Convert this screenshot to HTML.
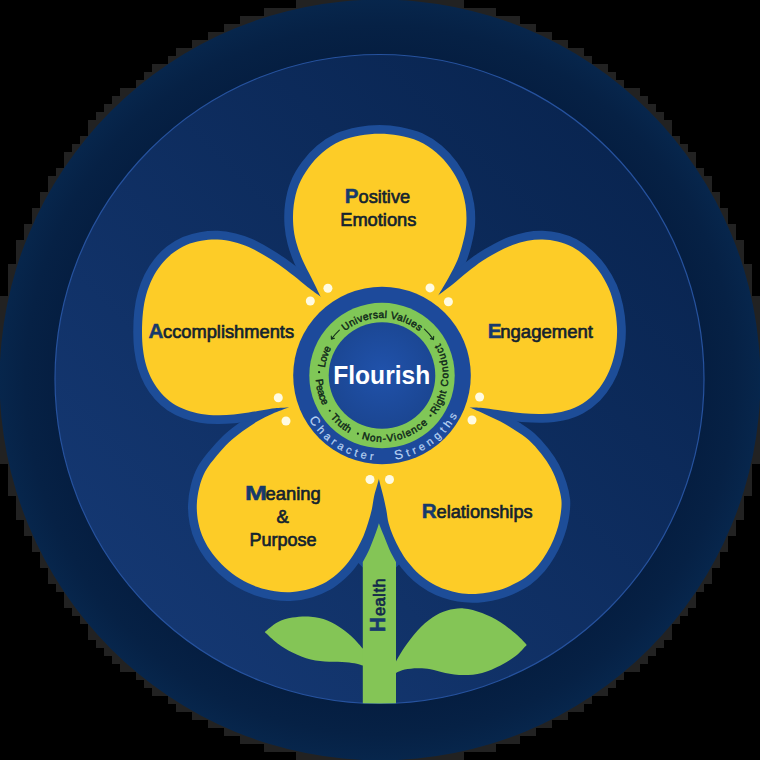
<!DOCTYPE html>
<html lang="en"><head><meta charset="utf-8"><title>Flourish</title>
<style>html,body{margin:0;padding:0;background:#000;}body{width:760px;height:760px;overflow:hidden;font-family:"Liberation Sans",sans-serif;}svg{display:block;}</style></head>
<body>
<svg width="760" height="760" viewBox="0 0 760 760">
<defs>
<linearGradient id="gInner" gradientUnits="userSpaceOnUse" x1="150" y1="610" x2="610" y2="150"><stop offset="0" stop-color="#143771"/><stop offset="1" stop-color="#092551"/></linearGradient>
<radialGradient id="gCore" gradientUnits="userSpaceOnUse" cx="382" cy="372" r="56"><stop offset="0" stop-color="#2052ab"/><stop offset="1" stop-color="#1b4692"/></radialGradient>
<radialGradient id="gOuter" gradientUnits="userSpaceOnUse" cx="380" cy="380" r="381"><stop offset="0.85" stop-color="#051e41"/><stop offset="0.93" stop-color="#062145"/><stop offset="1" stop-color="#07264c"/></radialGradient>
<clipPath id="clipInner"><circle cx="379.5" cy="379" r="324.5"/></clipPath>
<path id="arcTop" d="M326.28 395.78 A59.3 59.3 0 0 1 437.72 355.22"/>
<path id="arcBot" d="M315.65 369.7 A66.6 66.6 0 1 0 436.56 337.3"/>
<path id="arcChar" d="M297.4 375.5 A84.6 84.6 0 0 0 466.6 375.5"/>
</defs>
<rect width="760" height="760" fill="#000000"/>
<path d="M296 0h8v8h-8zM304 0h8v8h-8zM312 0h8v8h-8zM320 0h8v8h-8zM328 0h8v8h-8zM336 0h8v8h-8zM344 0h8v8h-8zM352 0h8v8h-8zM360 0h8v8h-8zM368 0h8v8h-8zM384 0h8v8h-8zM392 0h8v8h-8zM400 0h8v8h-8zM408 0h8v8h-8zM416 0h8v8h-8zM424 0h8v8h-8zM432 0h8v8h-8zM440 0h8v8h-8zM448 0h8v8h-8zM456 0h8v8h-8zM264 8h8v8h-8zM272 8h8v8h-8zM280 8h8v8h-8zM288 8h8v8h-8zM296 8h8v8h-8zM456 8h8v8h-8zM464 8h8v8h-8zM472 8h8v8h-8zM480 8h8v8h-8zM488 8h8v8h-8zM240 16h8v8h-8zM248 16h8v8h-8zM256 16h8v8h-8zM264 16h8v8h-8zM488 16h8v8h-8zM496 16h8v8h-8zM504 16h8v8h-8zM512 16h8v8h-8zM224 24h8v8h-8zM232 24h8v8h-8zM240 24h8v8h-8zM512 24h8v8h-8zM520 24h8v8h-8zM528 24h8v8h-8zM208 32h8v8h-8zM216 32h8v8h-8zM224 32h8v8h-8zM528 32h8v8h-8zM536 32h8v8h-8zM544 32h8v8h-8zM192 40h8v8h-8zM200 40h8v8h-8zM208 40h8v8h-8zM544 40h8v8h-8zM552 40h8v8h-8zM560 40h8v8h-8zM176 48h8v8h-8zM184 48h8v8h-8zM192 48h8v8h-8zM560 48h8v8h-8zM568 48h8v8h-8zM576 48h8v8h-8zM168 56h8v8h-8zM176 56h8v8h-8zM576 56h8v8h-8zM584 56h8v8h-8zM152 64h8v8h-8zM160 64h8v8h-8zM168 64h8v8h-8zM584 64h8v8h-8zM592 64h8v8h-8zM600 64h8v8h-8zM144 72h8v8h-8zM152 72h8v8h-8zM600 72h8v8h-8zM608 72h8v8h-8zM136 80h8v8h-8zM144 80h8v8h-8zM608 80h8v8h-8zM616 80h8v8h-8zM120 88h8v8h-8zM128 88h8v8h-8zM136 88h8v8h-8zM616 88h8v8h-8zM624 88h8v8h-8zM632 88h8v8h-8zM112 96h8v8h-8zM120 96h8v8h-8zM632 96h8v8h-8zM640 96h8v8h-8zM104 104h8v8h-8zM112 104h8v8h-8zM640 104h8v8h-8zM648 104h8v8h-8zM96 112h8v8h-8zM104 112h8v8h-8zM648 112h8v8h-8zM656 112h8v8h-8zM88 120h8v8h-8zM96 120h8v8h-8zM656 120h8v8h-8zM664 120h8v8h-8zM88 128h8v8h-8zM664 128h8v8h-8zM80 136h8v8h-8zM88 136h8v8h-8zM664 136h8v8h-8zM672 136h8v8h-8zM72 144h8v8h-8zM80 144h8v8h-8zM672 144h8v8h-8zM680 144h8v8h-8zM64 152h8v8h-8zM72 152h8v8h-8zM680 152h8v8h-8zM688 152h8v8h-8zM64 160h8v8h-8zM688 160h8v8h-8zM56 168h8v8h-8zM64 168h8v8h-8zM688 168h8v8h-8zM696 168h8v8h-8zM48 176h8v8h-8zM56 176h8v8h-8zM696 176h8v8h-8zM704 176h8v8h-8zM48 184h8v8h-8zM704 184h8v8h-8zM40 192h8v8h-8zM48 192h8v8h-8zM704 192h8v8h-8zM712 192h8v8h-8zM40 200h8v8h-8zM712 200h8v8h-8zM32 208h8v8h-8zM40 208h8v8h-8zM712 208h8v8h-8zM720 208h8v8h-8zM32 216h8v8h-8zM720 216h8v8h-8zM24 224h8v8h-8zM32 224h8v8h-8zM720 224h8v8h-8zM728 224h8v8h-8zM24 232h8v8h-8zM728 232h8v8h-8zM16 240h8v8h-8zM24 240h8v8h-8zM728 240h8v8h-8zM736 240h8v8h-8zM16 248h8v8h-8zM736 248h8v8h-8zM16 256h8v8h-8zM736 256h8v8h-8zM8 264h8v8h-8zM16 264h8v8h-8zM736 264h8v8h-8zM744 264h8v8h-8zM8 272h8v8h-8zM744 272h8v8h-8zM8 280h8v8h-8zM744 280h8v8h-8zM8 288h8v8h-8zM744 288h8v8h-8zM0 296h8v8h-8zM8 296h8v8h-8zM744 296h8v8h-8zM752 296h8v8h-8zM0 304h8v8h-8zM752 304h8v8h-8zM0 312h8v8h-8zM752 312h8v8h-8zM0 320h8v8h-8zM752 320h8v8h-8zM0 328h8v8h-8zM752 328h8v8h-8zM0 336h8v8h-8zM752 336h8v8h-8zM0 344h8v8h-8zM752 344h8v8h-8zM0 352h8v8h-8zM752 352h8v8h-8zM0 360h8v8h-8zM752 360h8v8h-8zM0 368h8v8h-8zM752 368h8v8h-8zM0 384h8v8h-8zM752 384h8v8h-8zM0 392h8v8h-8zM752 392h8v8h-8zM0 400h8v8h-8zM752 400h8v8h-8zM0 408h8v8h-8zM752 408h8v8h-8zM0 416h8v8h-8zM752 416h8v8h-8zM0 424h8v8h-8zM752 424h8v8h-8zM0 432h8v8h-8zM752 432h8v8h-8zM0 440h8v8h-8zM752 440h8v8h-8zM0 448h8v8h-8zM752 448h8v8h-8zM0 456h8v8h-8zM8 456h8v8h-8zM744 456h8v8h-8zM752 456h8v8h-8zM8 464h8v8h-8zM744 464h8v8h-8zM8 472h8v8h-8zM744 472h8v8h-8zM8 480h8v8h-8zM744 480h8v8h-8zM8 488h8v8h-8zM16 488h8v8h-8zM736 488h8v8h-8zM744 488h8v8h-8zM16 496h8v8h-8zM736 496h8v8h-8zM16 504h8v8h-8zM736 504h8v8h-8zM16 512h8v8h-8zM24 512h8v8h-8zM728 512h8v8h-8zM736 512h8v8h-8zM24 520h8v8h-8zM728 520h8v8h-8zM24 528h8v8h-8zM32 528h8v8h-8zM720 528h8v8h-8zM728 528h8v8h-8zM32 536h8v8h-8zM720 536h8v8h-8zM32 544h8v8h-8zM40 544h8v8h-8zM712 544h8v8h-8zM720 544h8v8h-8zM40 552h8v8h-8zM712 552h8v8h-8zM40 560h8v8h-8zM48 560h8v8h-8zM704 560h8v8h-8zM712 560h8v8h-8zM48 568h8v8h-8zM704 568h8v8h-8zM48 576h8v8h-8zM56 576h8v8h-8zM696 576h8v8h-8zM704 576h8v8h-8zM56 584h8v8h-8zM64 584h8v8h-8zM688 584h8v8h-8zM696 584h8v8h-8zM64 592h8v8h-8zM688 592h8v8h-8zM64 600h8v8h-8zM72 600h8v8h-8zM680 600h8v8h-8zM688 600h8v8h-8zM72 608h8v8h-8zM80 608h8v8h-8zM672 608h8v8h-8zM680 608h8v8h-8zM80 616h8v8h-8zM88 616h8v8h-8zM664 616h8v8h-8zM672 616h8v8h-8zM88 624h8v8h-8zM664 624h8v8h-8zM88 632h8v8h-8zM96 632h8v8h-8zM656 632h8v8h-8zM664 632h8v8h-8zM96 640h8v8h-8zM104 640h8v8h-8zM648 640h8v8h-8zM656 640h8v8h-8zM104 648h8v8h-8zM112 648h8v8h-8zM640 648h8v8h-8zM648 648h8v8h-8zM112 656h8v8h-8zM120 656h8v8h-8zM632 656h8v8h-8zM640 656h8v8h-8zM120 664h8v8h-8zM128 664h8v8h-8zM136 664h8v8h-8zM616 664h8v8h-8zM624 664h8v8h-8zM632 664h8v8h-8zM136 672h8v8h-8zM144 672h8v8h-8zM608 672h8v8h-8zM616 672h8v8h-8zM144 680h8v8h-8zM152 680h8v8h-8zM600 680h8v8h-8zM608 680h8v8h-8zM152 688h8v8h-8zM160 688h8v8h-8zM168 688h8v8h-8zM584 688h8v8h-8zM592 688h8v8h-8zM600 688h8v8h-8zM168 696h8v8h-8zM176 696h8v8h-8zM576 696h8v8h-8zM584 696h8v8h-8zM176 704h8v8h-8zM184 704h8v8h-8zM192 704h8v8h-8zM560 704h8v8h-8zM568 704h8v8h-8zM576 704h8v8h-8zM192 712h8v8h-8zM200 712h8v8h-8zM208 712h8v8h-8zM544 712h8v8h-8zM552 712h8v8h-8zM560 712h8v8h-8zM208 720h8v8h-8zM216 720h8v8h-8zM224 720h8v8h-8zM528 720h8v8h-8zM536 720h8v8h-8zM544 720h8v8h-8zM224 728h8v8h-8zM232 728h8v8h-8zM240 728h8v8h-8zM512 728h8v8h-8zM520 728h8v8h-8zM528 728h8v8h-8zM240 736h8v8h-8zM248 736h8v8h-8zM256 736h8v8h-8zM264 736h8v8h-8zM488 736h8v8h-8zM496 736h8v8h-8zM504 736h8v8h-8zM512 736h8v8h-8zM264 744h8v8h-8zM272 744h8v8h-8zM280 744h8v8h-8zM288 744h8v8h-8zM296 744h8v8h-8zM456 744h8v8h-8zM464 744h8v8h-8zM472 744h8v8h-8zM480 744h8v8h-8zM488 744h8v8h-8zM296 752h8v8h-8zM304 752h8v8h-8zM312 752h8v8h-8zM320 752h8v8h-8zM328 752h8v8h-8zM336 752h8v8h-8zM344 752h8v8h-8zM352 752h8v8h-8zM360 752h8v8h-8zM368 752h8v8h-8zM384 752h8v8h-8zM392 752h8v8h-8zM400 752h8v8h-8zM408 752h8v8h-8zM416 752h8v8h-8zM424 752h8v8h-8zM432 752h8v8h-8zM440 752h8v8h-8zM448 752h8v8h-8zM456 752h8v8h-8z" fill="#222222"/>
<circle cx="380" cy="380" r="380.4" fill="url(#gOuter)"/>
<circle cx="379.5" cy="379" r="324.5" fill="url(#gInner)" stroke="#26529e" stroke-width="1.2"/>
<g clip-path="url(#clipInner)" fill="#84c556">
<path d="M365.5 651.5 C365.05 651 364.85 650.77 362.8 648.5 C360.75 646.23 356.67 641.2 353.2 637.9 C349.73 634.6 346.3 631.62 342 628.7 C337.7 625.78 332.6 622.4 327.4 620.4 C322.2 618.4 316.63 617.17 310.8 616.7 C304.97 616.23 297.93 616.68 292.4 617.6 C286.87 618.52 282.22 619.8 277.6 622.2 C272.98 624.6 266.85 630.37 264.7 632 C266.85 633.9 272.98 639.97 277.6 643.4 C282.22 646.83 286.87 649.9 292.4 652.6 C297.93 655.3 304.67 658.07 310.8 659.6 C316.93 661.13 323.37 661.37 329.2 661.8 C335.03 662.23 341.2 661.88 345.8 662.2 C350.4 662.52 353.97 663.15 356.8 663.7 C359.63 664.25 361.35 665.03 362.8 665.5 C364.25 665.97 365.05 666.33 365.5 666.5 Z"/>
<path d="M393.5 666 C393.92 665.25 394.13 664.65 396 661.5 C397.87 658.35 401.1 652.27 404.7 647.1 C408.3 641.93 412.98 635.42 417.6 630.5 C422.22 625.58 427.48 620.92 432.4 617.6 C437.32 614.28 441.88 612.13 447.1 610.6 C452.32 609.07 457.87 608 463.7 608.4 C469.53 608.8 475.97 610.7 482.1 613 C488.23 615.3 494.67 618.52 500.5 622.2 C506.33 625.88 512.73 631.32 517.1 635.1 C521.47 638.88 525.1 643.27 526.7 644.9 C524.8 646.8 519.67 652.87 515.3 656.3 C510.93 659.73 506.03 662.73 500.5 665.5 C494.97 668.27 488.23 671.3 482.1 672.9 C475.97 674.5 469.83 675.1 463.7 675.1 C457.57 675.1 450.83 673.88 445.3 672.9 C439.77 671.92 435.12 669.97 430.5 669.2 C425.88 668.43 421.9 668.23 417.6 668.3 C413.3 668.37 408.3 668.83 404.7 669.6 C401.1 670.37 397.87 672.13 396 672.9 C394.13 673.67 393.92 673.98 393.5 674.2 Z"/>
</g>
<g fill="#1d4d98" stroke="#1d4d98" stroke-width="17.5" stroke-linejoin="round">
<path d="M320.5 296.5 C318.96 293.33 314.25 283.58 311.25 277.5 C308.25 271.42 305 265.83 302.5 260 C300 254.17 297.79 248.33 296.25 242.5 C294.71 236.67 293.67 231.25 293.25 225 C292.83 218.75 292.83 211.67 293.75 205 C294.67 198.33 296.25 191.25 298.75 185 C301.25 178.75 304.79 172.92 308.75 167.5 C312.71 162.08 317.29 156.88 322.5 152.5 C327.71 148.12 333.75 144.08 340 141.25 C346.25 138.42 353.42 136.75 360 135.5 C366.58 134.25 373.04 133.75 379.5 133.75 C385.96 133.75 392.21 134.25 398.75 135.5 C405.29 136.75 412.5 138.42 418.75 141.25 C425 144.08 431.04 148.12 436.25 152.5 C441.46 156.88 446.04 162.08 450 167.5 C453.96 172.92 457.42 178.75 460 185 C462.58 191.25 464.46 198.33 465.5 205 C466.54 211.67 466.67 218.75 466.25 225 C465.83 231.25 464.46 236.67 463 242.5 C461.54 248.33 459.88 254.17 457.5 260 C455.12 265.83 451.92 271.67 448.75 277.5 C445.58 283.33 440.21 292.08 438.5 295 L380 376 Z"/>
<path d="M438.5 295 C440.83 293.25 447.67 288.33 452.5 284.5 C457.33 280.67 462.5 275.96 467.5 272 C472.5 268.04 477.5 264.08 482.5 260.75 C487.5 257.42 492.5 254.62 497.5 252 C502.5 249.38 507.5 246.88 512.5 245 C517.5 243.12 522.5 241.67 527.5 240.75 C532.5 239.83 537.5 239.38 542.5 239.5 C547.5 239.62 552.5 240.25 557.5 241.5 C562.5 242.75 567.71 244.42 572.5 247 C577.29 249.58 581.88 253.04 586.25 257 C590.62 260.96 595 265.54 598.75 270.75 C602.5 275.96 606.12 282.21 608.75 288.25 C611.38 294.29 613.12 300.54 614.5 307 C615.88 313.46 616.71 320.75 617 327 C617.29 333.25 617 338.67 616.25 344.5 C615.5 350.33 614.38 356.17 612.5 362 C610.62 367.83 608.12 374.08 605 379.5 C601.88 384.92 598.12 390.12 593.75 394.5 C589.38 398.88 584.17 402.83 578.75 405.75 C573.33 408.67 567.29 410.62 561.25 412 C555.21 413.38 548.96 413.79 542.5 414 C536.04 414.21 529.17 413.79 522.5 413.25 C515.83 412.71 508.75 411.58 502.5 410.75 C496.25 409.92 490.42 408.79 485 408.25 C479.58 407.71 472.5 407.62 470 407.5 L380 376 Z"/>
<path d="M470 407.5 C472.5 408.62 480 411.9 485 414.2 C490 416.5 495 418.63 500 421.3 C505 423.97 510.21 427.08 515 430.2 C519.79 433.32 524.38 436.07 528.75 440 C533.12 443.93 537.5 448.96 541.25 453.75 C545 458.54 548.46 463.54 551.25 468.75 C554.04 473.96 556.31 479.79 558 485 C559.69 490.21 560.93 495.3 561.4 500 C561.87 504.7 561.33 508.82 560.8 513.2 C560.27 517.58 559.4 521.92 558.2 526.3 C557 530.68 555.47 535.12 553.6 539.5 C551.73 543.88 549.63 548.22 547 552.6 C544.37 556.98 541.42 561.63 537.8 565.8 C534.18 569.97 530.02 574.2 525.3 577.6 C520.58 581 514.33 584 509.5 586.2 C504.67 588.4 500.68 589.63 496.3 590.8 C491.92 591.97 487.23 592.67 483.2 593.2 C479.17 593.73 476.15 594.05 472.1 594 C468.05 593.95 463.28 593.63 458.9 592.9 C454.52 592.17 450.18 591.13 445.8 589.6 C441.42 588.07 436.98 586.22 432.6 583.7 C428.22 581.18 423.55 578.02 419.5 574.5 C415.45 570.98 411.6 566.77 408.3 562.6 C405 558.43 402.22 553.88 399.7 549.5 C397.18 545.12 395.05 540.68 393.2 536.3 C391.35 531.92 389.75 527.58 388.6 523.2 C387.45 518.82 387.18 514.48 386.3 510 C385.42 505.52 384.18 500.05 383.3 496.3 C382.42 492.55 381.73 490.38 381 487.5 C380.27 484.62 379.25 480.42 378.9 479 L380 376 Z"/>
<path d="M378.9 479 C378.5 480.42 377.3 484.62 376.5 487.5 C375.7 490.38 374.88 492.63 374.1 496.3 C373.32 499.97 372.78 505.12 371.8 509.5 C370.82 513.88 369.57 518.22 368.2 522.6 C366.83 526.98 365.47 531.4 363.6 535.8 C361.73 540.2 359.53 544.62 357 549 C354.47 553.38 351.27 558.35 348.4 562.1 C345.53 565.85 343.49 568.18 339.8 571.5 C336.11 574.82 331.22 579.12 326.25 582 C321.28 584.88 315.62 587.08 310 588.75 C304.38 590.42 298.33 591.58 292.5 592 C286.67 592.42 280.83 592.08 275 591.25 C269.17 590.42 263.33 589.08 257.5 587 C251.67 584.92 245.42 582 240 578.75 C234.58 575.5 229.58 571.67 225 567.5 C220.42 563.33 216.08 558.54 212.5 553.75 C208.92 548.96 205.87 543.96 203.5 538.75 C201.13 533.54 199.42 528.12 198.3 522.5 C197.18 516.88 196.63 510.83 196.8 505 C196.97 499.17 197.88 493.12 199.3 487.5 C200.72 481.88 202.48 476.46 205.3 471.25 C208.12 466.04 212.34 461.04 216.25 456.25 C220.16 451.46 224.38 446.67 228.75 442.5 C233.12 438.33 237.71 434.79 242.5 431.25 C247.29 427.71 252.5 424.17 257.5 421.25 C262.5 418.33 267.33 416.04 272.5 413.75 C277.67 411.46 285.83 408.54 288.5 407.5 L380 376 Z"/>
<path d="M288.5 407.5 C286.25 407.62 279.12 407.83 275 408.25 C270.88 408.67 268.12 409.29 263.75 410 C259.38 410.71 253.75 411.75 248.75 412.5 C243.75 413.25 238.96 414.04 233.75 414.5 C228.54 414.96 222.92 415.33 217.5 415.25 C212.08 415.17 206.46 414.88 201.25 414 C196.04 413.12 191.04 411.79 186.25 410 C181.46 408.21 176.67 406.04 172.5 403.25 C168.33 400.46 164.58 397 161.25 393.25 C157.92 389.5 155 385.33 152.5 380.75 C150 376.17 147.83 370.96 146.25 365.75 C144.67 360.54 143.71 355.12 143 349.5 C142.29 343.88 142 338.25 142 332 C142 325.75 142.29 318.25 143 312 C143.71 305.75 144.67 300.12 146.25 294.5 C147.83 288.88 150 283.25 152.5 278.25 C155 273.25 157.92 268.67 161.25 264.5 C164.58 260.33 168.33 256.5 172.5 253.25 C176.67 250 181.46 247.08 186.25 245 C191.04 242.92 196.04 241.67 201.25 240.75 C206.46 239.83 212.08 239.29 217.5 239.5 C222.92 239.71 228.54 240.75 233.75 242 C238.96 243.25 243.75 244.83 248.75 247 C253.75 249.17 258.75 252.08 263.75 255 C268.75 257.92 273.75 261.04 278.75 264.5 C283.75 267.96 288.96 272 293.75 275.75 C298.54 279.5 303.04 283.54 307.5 287 C311.96 290.46 318.33 294.92 320.5 296.5 L380 376 Z"/>
</g>
<polygon points="378.9,478 357,553 357.5,562 362.8,567.5 396,567.5 401.5,562 402,553" fill="#1d4d98"/>
<path clip-path="url(#clipInner)" fill="#84c556" d="M378.9 523.3 C377.8 527.5 376.2 531.8 374.7 535.8 C373 540.3 371.2 544.8 369.5 549 C367.5 553.8 364.6 558.4 362.8 562.1 L362.8 715 L396.0 715 L396.0 562.1 C393.9 558.2 391.2 553.6 389.2 549 C387.3 544.6 385.6 540.2 383.9 535.8 C382.3 531.7 380.2 527.4 378.9 523.3 Z"/>
<polygon points="320.5,296.5 438.5,295 470,407.5 378.9,479 288.5,407.5" fill="#fdcc27"/>
<g fill="#fdcc27">
<path d="M320.5 296.5 C318.96 293.33 314.25 283.58 311.25 277.5 C308.25 271.42 305 265.83 302.5 260 C300 254.17 297.79 248.33 296.25 242.5 C294.71 236.67 293.67 231.25 293.25 225 C292.83 218.75 292.83 211.67 293.75 205 C294.67 198.33 296.25 191.25 298.75 185 C301.25 178.75 304.79 172.92 308.75 167.5 C312.71 162.08 317.29 156.88 322.5 152.5 C327.71 148.12 333.75 144.08 340 141.25 C346.25 138.42 353.42 136.75 360 135.5 C366.58 134.25 373.04 133.75 379.5 133.75 C385.96 133.75 392.21 134.25 398.75 135.5 C405.29 136.75 412.5 138.42 418.75 141.25 C425 144.08 431.04 148.12 436.25 152.5 C441.46 156.88 446.04 162.08 450 167.5 C453.96 172.92 457.42 178.75 460 185 C462.58 191.25 464.46 198.33 465.5 205 C466.54 211.67 466.67 218.75 466.25 225 C465.83 231.25 464.46 236.67 463 242.5 C461.54 248.33 459.88 254.17 457.5 260 C455.12 265.83 451.92 271.67 448.75 277.5 C445.58 283.33 440.21 292.08 438.5 295 L380 376 Z"/>
<path d="M438.5 295 C440.83 293.25 447.67 288.33 452.5 284.5 C457.33 280.67 462.5 275.96 467.5 272 C472.5 268.04 477.5 264.08 482.5 260.75 C487.5 257.42 492.5 254.62 497.5 252 C502.5 249.38 507.5 246.88 512.5 245 C517.5 243.12 522.5 241.67 527.5 240.75 C532.5 239.83 537.5 239.38 542.5 239.5 C547.5 239.62 552.5 240.25 557.5 241.5 C562.5 242.75 567.71 244.42 572.5 247 C577.29 249.58 581.88 253.04 586.25 257 C590.62 260.96 595 265.54 598.75 270.75 C602.5 275.96 606.12 282.21 608.75 288.25 C611.38 294.29 613.12 300.54 614.5 307 C615.88 313.46 616.71 320.75 617 327 C617.29 333.25 617 338.67 616.25 344.5 C615.5 350.33 614.38 356.17 612.5 362 C610.62 367.83 608.12 374.08 605 379.5 C601.88 384.92 598.12 390.12 593.75 394.5 C589.38 398.88 584.17 402.83 578.75 405.75 C573.33 408.67 567.29 410.62 561.25 412 C555.21 413.38 548.96 413.79 542.5 414 C536.04 414.21 529.17 413.79 522.5 413.25 C515.83 412.71 508.75 411.58 502.5 410.75 C496.25 409.92 490.42 408.79 485 408.25 C479.58 407.71 472.5 407.62 470 407.5 L380 376 Z"/>
<path d="M470 407.5 C472.5 408.62 480 411.9 485 414.2 C490 416.5 495 418.63 500 421.3 C505 423.97 510.21 427.08 515 430.2 C519.79 433.32 524.38 436.07 528.75 440 C533.12 443.93 537.5 448.96 541.25 453.75 C545 458.54 548.46 463.54 551.25 468.75 C554.04 473.96 556.31 479.79 558 485 C559.69 490.21 560.93 495.3 561.4 500 C561.87 504.7 561.33 508.82 560.8 513.2 C560.27 517.58 559.4 521.92 558.2 526.3 C557 530.68 555.47 535.12 553.6 539.5 C551.73 543.88 549.63 548.22 547 552.6 C544.37 556.98 541.42 561.63 537.8 565.8 C534.18 569.97 530.02 574.2 525.3 577.6 C520.58 581 514.33 584 509.5 586.2 C504.67 588.4 500.68 589.63 496.3 590.8 C491.92 591.97 487.23 592.67 483.2 593.2 C479.17 593.73 476.15 594.05 472.1 594 C468.05 593.95 463.28 593.63 458.9 592.9 C454.52 592.17 450.18 591.13 445.8 589.6 C441.42 588.07 436.98 586.22 432.6 583.7 C428.22 581.18 423.55 578.02 419.5 574.5 C415.45 570.98 411.6 566.77 408.3 562.6 C405 558.43 402.22 553.88 399.7 549.5 C397.18 545.12 395.05 540.68 393.2 536.3 C391.35 531.92 389.75 527.58 388.6 523.2 C387.45 518.82 387.18 514.48 386.3 510 C385.42 505.52 384.18 500.05 383.3 496.3 C382.42 492.55 381.73 490.38 381 487.5 C380.27 484.62 379.25 480.42 378.9 479 L380 376 Z"/>
<path d="M378.9 479 C378.5 480.42 377.3 484.62 376.5 487.5 C375.7 490.38 374.88 492.63 374.1 496.3 C373.32 499.97 372.78 505.12 371.8 509.5 C370.82 513.88 369.57 518.22 368.2 522.6 C366.83 526.98 365.47 531.4 363.6 535.8 C361.73 540.2 359.53 544.62 357 549 C354.47 553.38 351.27 558.35 348.4 562.1 C345.53 565.85 343.49 568.18 339.8 571.5 C336.11 574.82 331.22 579.12 326.25 582 C321.28 584.88 315.62 587.08 310 588.75 C304.38 590.42 298.33 591.58 292.5 592 C286.67 592.42 280.83 592.08 275 591.25 C269.17 590.42 263.33 589.08 257.5 587 C251.67 584.92 245.42 582 240 578.75 C234.58 575.5 229.58 571.67 225 567.5 C220.42 563.33 216.08 558.54 212.5 553.75 C208.92 548.96 205.87 543.96 203.5 538.75 C201.13 533.54 199.42 528.12 198.3 522.5 C197.18 516.88 196.63 510.83 196.8 505 C196.97 499.17 197.88 493.12 199.3 487.5 C200.72 481.88 202.48 476.46 205.3 471.25 C208.12 466.04 212.34 461.04 216.25 456.25 C220.16 451.46 224.38 446.67 228.75 442.5 C233.12 438.33 237.71 434.79 242.5 431.25 C247.29 427.71 252.5 424.17 257.5 421.25 C262.5 418.33 267.33 416.04 272.5 413.75 C277.67 411.46 285.83 408.54 288.5 407.5 L380 376 Z"/>
<path d="M288.5 407.5 C286.25 407.62 279.12 407.83 275 408.25 C270.88 408.67 268.12 409.29 263.75 410 C259.38 410.71 253.75 411.75 248.75 412.5 C243.75 413.25 238.96 414.04 233.75 414.5 C228.54 414.96 222.92 415.33 217.5 415.25 C212.08 415.17 206.46 414.88 201.25 414 C196.04 413.12 191.04 411.79 186.25 410 C181.46 408.21 176.67 406.04 172.5 403.25 C168.33 400.46 164.58 397 161.25 393.25 C157.92 389.5 155 385.33 152.5 380.75 C150 376.17 147.83 370.96 146.25 365.75 C144.67 360.54 143.71 355.12 143 349.5 C142.29 343.88 142 338.25 142 332 C142 325.75 142.29 318.25 143 312 C143.71 305.75 144.67 300.12 146.25 294.5 C147.83 288.88 150 283.25 152.5 278.25 C155 273.25 157.92 268.67 161.25 264.5 C164.58 260.33 168.33 256.5 172.5 253.25 C176.67 250 181.46 247.08 186.25 245 C191.04 242.92 196.04 241.67 201.25 240.75 C206.46 239.83 212.08 239.29 217.5 239.5 C222.92 239.71 228.54 240.75 233.75 242 C238.96 243.25 243.75 244.83 248.75 247 C253.75 249.17 258.75 252.08 263.75 255 C268.75 257.92 273.75 261.04 278.75 264.5 C283.75 267.96 288.96 272 293.75 275.75 C298.54 279.5 303.04 283.54 307.5 287 C311.96 290.46 318.33 294.92 320.5 296.5 L380 376 Z"/>
</g>
<g fill="#fffbe2">
<circle cx="327.9" cy="288.2" r="4.5"/>
<circle cx="310.3" cy="301" r="4.5"/>
<circle cx="430" cy="287.9" r="4.5"/>
<circle cx="448.4" cy="301.8" r="4.5"/>
<circle cx="278.3" cy="397.7" r="4.5"/>
<circle cx="286" cy="421" r="4.5"/>
<circle cx="479.6" cy="397" r="4.5"/>
<circle cx="472" cy="420" r="4.5"/>
<circle cx="370" cy="479.5" r="4.5"/>
<circle cx="389.5" cy="479.5" r="4.5"/>
</g>
<circle cx="382" cy="375.5" r="88.8" fill="#1d4a9b"/>
<circle cx="382" cy="375.5" r="72.7" fill="#80c757"/>
<circle cx="382" cy="375.5" r="53.3" fill="url(#gCore)"/>
<g font-family="Liberation Sans, sans-serif" fill="#10291a" stroke="#10291a" stroke-width="0.45">
<path id="wa1" d="M324.43 373.66 A57.6 57.6 0 0 1 334.51 342.9" fill="none" stroke="none"/><text font-size="10.2" ><textPath href="#wa1" startOffset="6" textLength="20.81" lengthAdjust="spacing">Love</textPath></text>
<path id="wa2" d="M340.59 335.46 A57.6 57.6 0 0 1 423.41 335.46" fill="none" stroke="none"/><text font-size="10.2" ><textPath href="#wa2" startOffset="6" textLength="80.42" lengthAdjust="spacing">Universal Values</textPath></text>
<path id="wa3" d="M315.63 373.44 A66.4 66.4 0 0 0 325.8 410.86" fill="none" stroke="none"/><text font-size="10.2" ><textPath href="#wa3" startOffset="6" textLength="27.35" lengthAdjust="spacing">Peace</textPath></text>
<path id="wa4" d="M326.84 412.46 A66.4 66.4 0 0 0 354.12 435.77" fill="none" stroke="none"/><text font-size="10.2" ><textPath href="#wa4" startOffset="6" textLength="24.34" lengthAdjust="spacing">Truth</textPath></text>
<path id="wa5" d="M355.87 436.54 A66.4 66.4 0 0 0 431.94 419.26" fill="none" stroke="none"/><text font-size="10.2" ><textPath href="#wa5" startOffset="6" textLength="71.39" lengthAdjust="spacing">Non-Violence</textPath></text>
<path id="wa6" d="M431.67 419.57 A66.4 66.4 0 0 0 447.61 385.68" fill="none" stroke="none"/><text font-size="10.2" ><textPath href="#wa6" startOffset="6" textLength="25.96" lengthAdjust="spacing">Right</textPath></text>
<path id="wa7" d="M446.08 392.88 A66.4 66.4 0 0 0 437.13 338.49" fill="none" stroke="none"/><text font-size="10.2" ><textPath href="#wa7" startOffset="6" textLength="44.85" lengthAdjust="spacing">Conduct</textPath></text>
<circle cx="319.09" cy="372.2" r="1.1" stroke="none"/>
<circle cx="329.77" cy="410.73" r="1.1" stroke="none"/>
<circle cx="357.89" cy="433.7" r="1.1" stroke="none"/>
<circle cx="430.54" cy="415.66" r="1.1" stroke="none"/>
</g>
<path d="M339.35 330.09 A62.3 62.3 0 0 0 331.41 339.15 M334.48 338.25 L331.41 339.15 L331.28 335.95" fill="none" stroke="#12301c" stroke-width="1.1" stroke-linecap="round" stroke-linejoin="round"/>
<path d="M424.43 329.2 A62.8 62.8 0 0 1 433.51 339.57 M433.68 336.37 L433.51 339.57 L430.45 338.63" fill="none" stroke="#12301c" stroke-width="1.1" stroke-linecap="round" stroke-linejoin="round"/>
<g font-family="Liberation Sans, sans-serif" fill="#b9d2f2" stroke="#b9d2f2" stroke-width="0.2">
<path id="wa8" d="M306.06 414.13 A85.2 85.2 0 0 0 379.08 460.65" fill="none" stroke="none"/><text font-size="11" ><textPath href="#wa8" startOffset="6" textLength="78.81" lengthAdjust="spacing"><tspan font-size="13">C</tspan>haracter</textPath></text>
<path id="wa9" d="M389.37 460.38 A85.2 85.2 0 0 0 459.86 410.11" fill="none" stroke="none"/><text font-size="11" ><textPath href="#wa9" startOffset="6" textLength="78.81" lengthAdjust="spacing"><tspan font-size="13">S</tspan>trengths</textPath></text>
</g>
<text x="381.75" y="383.6" text-anchor="middle" font-family="Liberation Sans, sans-serif" font-weight="bold" font-size="25.8" fill="#ffffff" textLength="97" lengthAdjust="spacingAndGlyphs">Flourish</text>
<g font-family="Liberation Sans, sans-serif" fill="#13232f" stroke="#13232f" stroke-width="0.65">
<text transform="translate(344.8,203.1) scale(1,1)" font-weight="bold" font-size="20.6" fill="#173a6c" stroke="#173a6c" stroke-width="0.5">P</text><text x="358.55" y="203.1" font-size="18.2">ositive</text>
<text x="340.2" y="226.2" font-size="18.3">Emotions</text>
<text transform="translate(148.6,337.9) scale(1,1)" font-weight="bold" font-size="20.6" fill="#173a6c" stroke="#173a6c" stroke-width="0.5">A</text><text x="163" y="337.9" font-size="18.3">ccomplishments</text>
<text transform="translate(487.7,338.1) scale(1,1)" font-weight="bold" font-size="20.6" fill="#173a6c" stroke="#173a6c" stroke-width="0.5">E</text><text x="500.3" y="338.1" font-size="18.5">ngagement</text>
<text transform="translate(245,500.3) scale(1.28,1)" font-weight="bold" font-size="20.6" fill="#173a6c" stroke="#173a6c" stroke-width="0.5">M</text><text x="265.6" y="500.3" font-size="18.4">eaning</text>
<text x="282.8" y="523.2" font-size="18.6" text-anchor="middle">&amp;</text>
<text x="249.5" y="545.8" font-size="18.0">Purpose</text>
<text transform="translate(421.7,518.2) scale(1,1)" font-weight="bold" font-size="20.6" fill="#173a6c" stroke="#173a6c" stroke-width="0.5">R</text><text x="436.55" y="518.2" font-size="18.2">elationships</text>
<g transform="translate(384.9,632.3) rotate(-90)"><text transform="translate(0,0) scale(1,1)" font-weight="bold" font-size="21.2" fill="#173a6c" stroke="#173a6c" stroke-width="0.5">H</text><text x="16.2" y="0" font-size="16.4"><tspan letter-spacing="0.55" fill="#12284a" stroke="#12284a">ealth</tspan></text></g>
</g>
</svg>
</body></html>
